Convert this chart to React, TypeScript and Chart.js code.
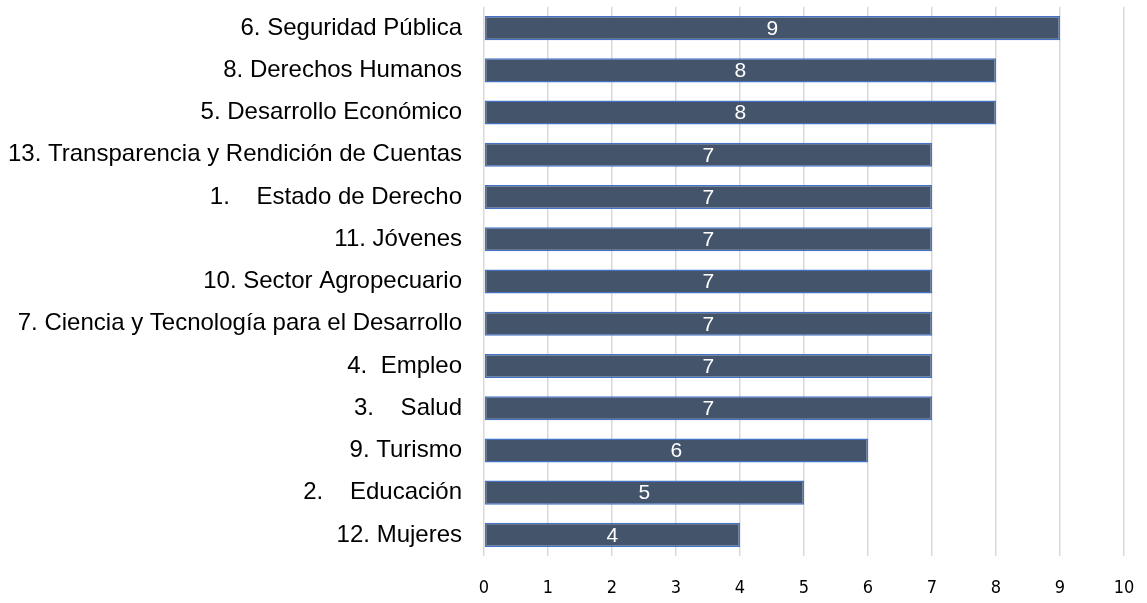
import React, { useEffect, useRef } from "react";
import { Chart, registerables } from "chart.js";

Chart.register(...registerables);

const categories = [
  "6. Seguridad Pública",
  "8. Derechos Humanos",
  "5. Desarrollo Económico",
  "13. Transparencia y Rendición de Cuentas",
  "1.    Estado de Derecho",
  "11. Jóvenes",
  "10. Sector Agropecuario",
  "7. Ciencia y Tecnología para el Desarrollo",
  "4.  Empleo",
  "3.    Salud",
  "9. Turismo",
  "2.    Educación",
  "12. Mujeres",
];
const values = [9, 8, 8, 7, 7, 7, 7, 7, 7, 7, 6, 5, 4];
const xTicks = [0, 1, 2, 3, 4, 5, 6, 7, 8, 9, 10];

const valueLabels = {
  id: "valueLabels",
  afterDatasetsDraw(chart: any) {
    const ctx = chart.ctx;
    const meta = chart.getDatasetMeta(0);
    ctx.save();
    ctx.fillStyle = "#ffffff";
    ctx.font = "21px 'Liberation Sans', Arial, sans-serif";
    ctx.textAlign = "center";
    ctx.textBaseline = "middle";
    meta.data.forEach((bar: any, i: number) => {
      const x = (bar.x + bar.base) / 2;
      ctx.fillText(String(values[i]), x, bar.y + 1);
    });
    ctx.restore();
  },
};

export default function App() {
  const ref = useRef<HTMLCanvasElement>(null);
  useEffect(() => {
    if (!ref.current) return;
    const chart = new Chart(ref.current, {
      type: "bar",
      data: {
        labels: categories,
        datasets: [
          {
            data: values,
            backgroundColor: "#44546A",
            borderColor: "#4472C4",
            borderWidth: 1.5,
            borderSkipped: false,
            barPercentage: 0.57,
            categoryPercentage: 1,
          },
        ],
      },
      options: {
        indexAxis: "y",
        animation: false,
        responsive: true,
        maintainAspectRatio: false,
        layout: { padding: { top: 7, right: 23, bottom: 0, left: 0 } },
        plugins: { legend: { display: false }, tooltip: { enabled: false } },
        scales: {
          x: {
            min: 0,
            max: 10,
            afterTickToLabelConversion: (s: any) => {
              s.ticks = xTicks.map((v) => ({ value: v, label: String(v) }));
            },
            afterFit: (s: any) => {
              s.height = 47;
              s.paddingLeft = 0;
              s.paddingRight = 0;
            },
            ticks: {
              stepSize: 1,
              padding: 22,
              color: "#000000",
              font: { family: "'DejaVu Sans Condensed', 'Liberation Sans', Arial, sans-serif", size: 18 },
            },
            grid: { color: "#D9D9D9", lineWidth: 1.5, drawTicks: false },
            border: { display: false },
          },
          y: {
            afterFit: (s: any) => {
              s.width = 484;
              s.paddingTop = 0;
              s.paddingBottom = 0;
            },
            ticks: {
              padding: 22,
              color: "#000000",
              font: { family: "'Liberation Sans', Arial, sans-serif", size: 24 },
            },
            grid: { display: false, drawTicks: false },
            border: { display: false },
          },
        },
      },
      plugins: [valueLabels],
    });
    return () => chart.destroy();
  }, []);
  return (
    <div style={{ position: "fixed", left: 0, top: 0, width: 1147, height: 603 }}>
      <canvas ref={ref} />
    </div>
  );
}
